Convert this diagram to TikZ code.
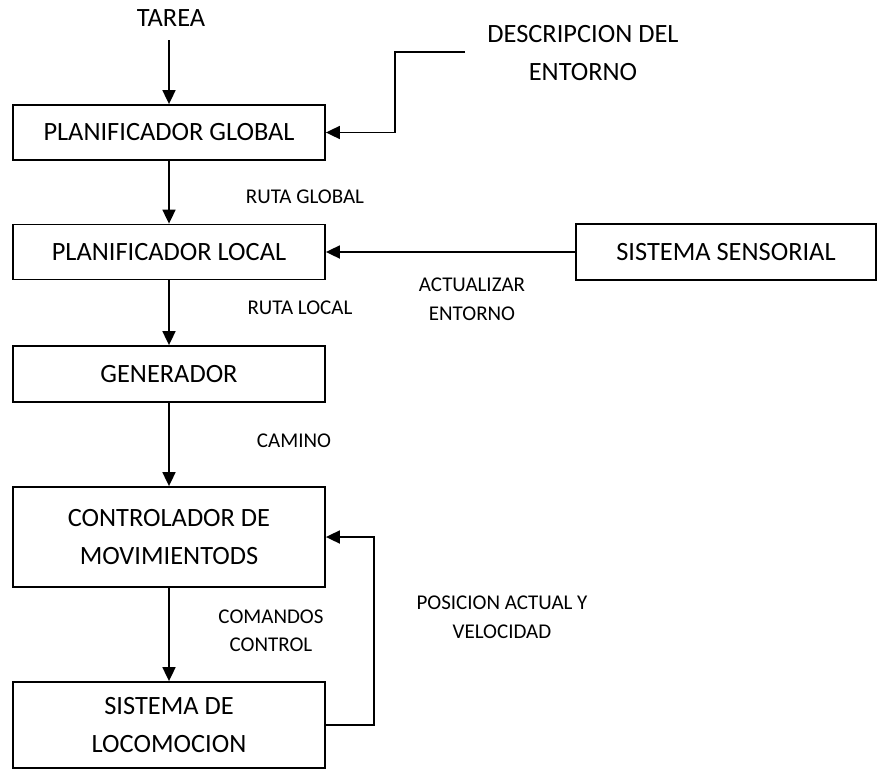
\documentclass[tikz,border=0pt]{standalone}
\usepackage{fontspec}
\setmainfont{Carlito}
\usetikzlibrary{arrows.meta}
\newcommand{\boxfont}{\fontsize{26.4}{38}\selectfont}
\newcommand{\labfont}{\fontsize{21}{28.5}\selectfont}
\begin{document}
\begin{tikzpicture}[x=1pt,y=-1pt,
  block/.style={draw=black,line width=1.8pt,minimum width=312pt,inner sep=0pt,
    font=\boxfont,align=center},
  lab/.style={font=\labfont,align=center,inner sep=0pt},
  big/.style={font=\boxfont,align=center,inner sep=0pt},
  arr/.style={line width=1.8pt,-{Triangle[length=14pt,width=13pt]}},
  wire/.style={line width=1.8pt}]
\useasboundingbox (0,0) rectangle (878,771);
\clip (0,0) rectangle (878,771);

% main chain of blocks
\node[block,minimum height=55pt] (global) at (169,132.5) {PLANIFICADOR GLOBAL};
\node[block,minimum height=55pt] (local) at (169,252) {PLANIFICADOR LOCAL};
\node[block,minimum height=56pt] (gen) at (169,374) {GENERADOR};
\node[block,minimum height=100pt] (ctrl) at (169,537) {CONTROLADOR DE\\MOVIMIENTODS};
\node[block,minimum height=86pt] (loco) at (169,725) {SISTEMA DE\\LOCOMOCION};
\node[block,minimum width=300pt,minimum height=56pt] (sensor) at (726,252) {SISTEMA SENSORIAL};

% inputs
\node[big] (tarea) at (171,18) {TAREA};
\coordinate (tareaend) at (169,40);
\node[big] (desc) at (583,53.5) {DESCRIPCION DEL\\ENTORNO};
\coordinate (descend) at (465,52);

% connector labels
\node[lab] (lglobal) at (305,197) {RUTA GLOBAL};
\node[lab] (llocal) at (300,308) {RUTA LOCAL};
\node[lab] (lcamino) at (294,441) {CAMINO};
\node[lab] (lcmd) at (271,631) {COMANDOS\\CONTROL};
\node[lab] (lact) at (472,299.5) {ACTUALIZAR\\ENTORNO};
\node[lab] (lpos) at (502,617.5) {POSICION ACTUAL Y\\VELOCIDAD};

% connectors
\draw[arr] (tareaend) -- (global.north);
\draw[arr] (descend) -- ++(-70,0) |- (global.east);
\draw[arr] (global.south) -- (local.north);
\draw[arr] (sensor.west) -- (local.east);
\draw[arr] (local.south) -- (gen.north);
\draw[arr] (gen.south) -- (ctrl.north);
\draw[arr] (ctrl.south) -- (loco.north);
\draw[arr] (loco.east) -- ++(48,0) |- (ctrl.east);
\end{tikzpicture}
\end{document}
